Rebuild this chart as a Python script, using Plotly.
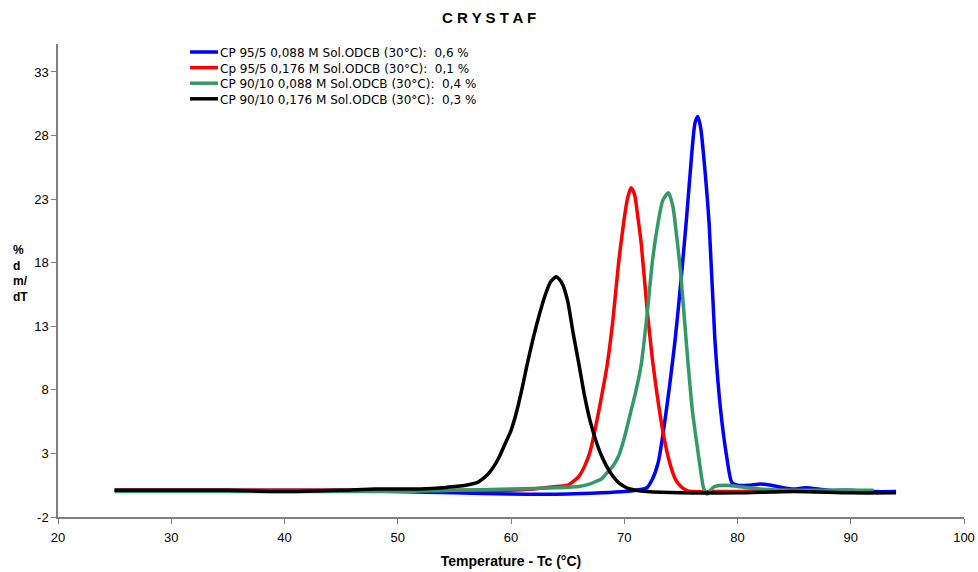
import plotly.graph_objects as go

# CRYSTAF crystallisation curves: temperature (°C) vs dm/dT (%)
t_blue = [25, 30, 35, 40, 45, 50, 55, 60, 65, 68, 70, 71, 72, 72.5, 73, 73.5, 74, 74.5,
          75, 75.5, 76, 76.25, 76.5, 76.75, 77, 77.5, 78, 78.5, 79, 79.5, 80, 81, 82, 83,
          84, 85, 86, 88, 90, 92, 94]
v_blue = [0.1, 0.1, 0.1, 0.1, 0.1, 0.0, -0.1, -0.2, -0.2, -0.1, 0.0, 0.1, 0.3, 1.0, 2.3,
          5.0, 8.3, 12.0, 16.5, 21.5, 27.0, 29.0, 29.5, 28.6, 26.5, 21.0, 12.0, 6.5, 3.0,
          0.7, 0.5, 0.5, 0.6, 0.5, 0.3, 0.2, 0.3, 0.1, 0.1, 0.0, 0.0]

t_red = [25, 30, 35, 40, 45, 50, 55, 60, 62, 64, 65, 65.5, 66, 66.5, 67, 67.5, 68, 68.5,
         69, 69.5, 70, 70.3, 70.6, 70.9, 71.2, 71.5, 72, 72.5, 73, 73.5, 74, 74.5, 75,
         75.5, 76, 78, 80, 84, 88, 92]
v_red = [0.1, 0.1, 0.1, 0.1, 0.1, 0.1, 0.1, 0.1, 0.2, 0.4, 0.5, 0.8, 1.2, 2.0, 3.2, 5.2,
         7.5, 10.0, 13.5, 18.0, 21.5, 23.1, 23.9, 23.4, 21.6, 19.5, 14.5, 10.3, 7.0, 4.3,
         2.3, 1.0, 0.4, 0.1, 0.0, 0.0, 0.0, 0.1, 0.0, 0.0]

t_green = [25, 30, 35, 40, 45, 50, 55, 60, 64, 66, 67, 67.5, 68, 68.5, 69, 69.5, 70, 70.5,
           71, 71.5, 72, 72.5, 73, 73.4, 73.9, 74.3, 74.6, 75, 75.5, 76, 76.5, 77, 77.3,
           77.7, 78, 79, 80, 82, 85, 88, 92]
v_green = [0.0, 0.0, 0.0, 0.0, 0.0, 0.0, 0.1, 0.2, 0.3, 0.4, 0.6, 0.8, 1.0, 1.5, 2.0, 2.8,
           4.2, 6.0, 7.8, 10.0, 13.8, 18.2, 21.2, 22.9, 23.5, 22.4, 20.3, 17.0, 11.5, 6.5,
           3.2, 0.3, -0.2, 0.2, 0.4, 0.5, 0.4, 0.2, 0.1, 0.1, 0.1]

t_black = [25, 30, 35, 40, 45, 48, 50, 52, 54, 55, 56, 57, 57.5, 58, 58.5, 59, 59.5, 60,
           60.5, 61, 61.5, 62, 62.5, 63, 63.5, 64, 64.5, 65, 65.5, 66, 66.5, 67, 67.5,
           68, 68.5, 69, 69.5, 70, 70.5, 71, 72, 75, 80, 85, 90, 94]
v_black = [0.1, 0.1, 0.1, 0.0, 0.1, 0.2, 0.2, 0.2, 0.3, 0.4, 0.5, 0.7, 1.0, 1.4, 2.0, 2.8,
           3.8, 4.8, 6.3, 8.2, 10.3, 12.2, 13.9, 15.4, 16.5, 16.9, 16.4, 15.0, 12.4, 10.0,
           7.5, 5.5, 4.0, 2.8, 1.9, 1.2, 0.7, 0.4, 0.2, 0.1, 0.0, -0.1, -0.1, 0.0, -0.1,
           -0.1]

names = [
    "CP 95/5 0,088 M Sol.ODCB (30°C):\u00a0 0,6 %",
    "Cp 95/5 0,176 M Sol.ODCB (30°C):\u00a0 0,1 %",
    "CP 90/10 0,088 M Sol.ODCB (30°C):\u00a0 0,4 %",
    "CP 90/10 0,176 M Sol.ODCB (30°C):\u00a0 0,3 %",
]
colors = ["#0000ff", "#ff0000", "#339966", "#000000"]
series = [(t_blue, v_blue), (t_red, v_red), (t_green, v_green), (t_black, v_black)]

x_ticks = [20, 30, 40, 50, 60, 70, 80, 90, 100]
y_ticks = [-2, 3, 8, 13, 18, 23, 28, 33]
y_ticktext = [str(v) for v in y_ticks]

W, H = 978, 572
ML, MR, MT, MB = 58, 14, 44, 55
PW, PH = W - ML - MR, H - MT - MB


def px_x(x):
    return (x - ML) / PW


def px_y(y):
    return (H - MB - y) / PH


FONT = "Liberation Sans, Arial, sans-serif"

fig = go.Figure()
for (t, v), name, col in zip(series, names, colors):
    fig.add_trace(go.Scatter(x=t, y=v, mode="lines", name=name, showlegend=False,
                             line=dict(color=col, width=3.5, shape="spline",
                                       smoothing=0.6)))

fig.update_layout(
    width=W, height=H,
    margin=dict(l=ML, r=MR, t=MT, b=MB),
    paper_bgcolor="white", plot_bgcolor="white",
    font=dict(family=FONT, size=13, color="#000000"),
    title=dict(text="<b>C R Y S T A F</b>", x=0.5, xanchor="center", y=1 - 18 / H,
               yanchor="middle", font=dict(size=15, color="#000000")),
    xaxis=dict(range=[20, 100], tickvals=x_ticks, showgrid=False, zeroline=False,
               showline=True, linecolor="#808080", linewidth=1.5, automargin=False,
               ticks="outside", ticklen=5, tickcolor="#808080",
               ticklabelstandoff=3,
               title=dict(text="<b>Temperature - Tc (°C)</b>", standoff=12,
                          font=dict(size=14))),
    yaxis=dict(range=[-2, 35.2], tickvals=y_ticks, ticktext=y_ticktext,
               showgrid=False, zeroline=False, automargin=False,
               showline=True, linecolor="#808080", linewidth=1.5,
               ticks="outside", ticklen=5, tickcolor="#808080"),
)

# legend: coloured line sample plus label for each series
for i, (name, col) in enumerate(zip(names, colors)):
    yl = 52 + 15.6 * i
    fig.add_shape(type="line", xref="paper", yref="paper",
                  x0=px_x(190), x1=px_x(218), y0=px_y(yl), y1=px_y(yl),
                  line=dict(color=col, width=3.5))
    fig.add_annotation(text=name, xref="paper", yref="paper",
                       x=px_x(219), y=px_y(yl + 1), xanchor="left", yanchor="middle",
                       showarrow=False, borderpad=0,
                       font=dict(family="DejaVu Sans, sans-serif", size=12,
                                 color="#000000"))

fig.add_annotation(text="<b>%<br>d<br>m/<br>dT</b>", xref="paper", yref="paper",
                   x=px_x(11), y=px_y(241), xanchor="left", yanchor="top", align="left",
                   showarrow=False, font=dict(size=12, color="#000000"))

fig.write_html("out.html")
